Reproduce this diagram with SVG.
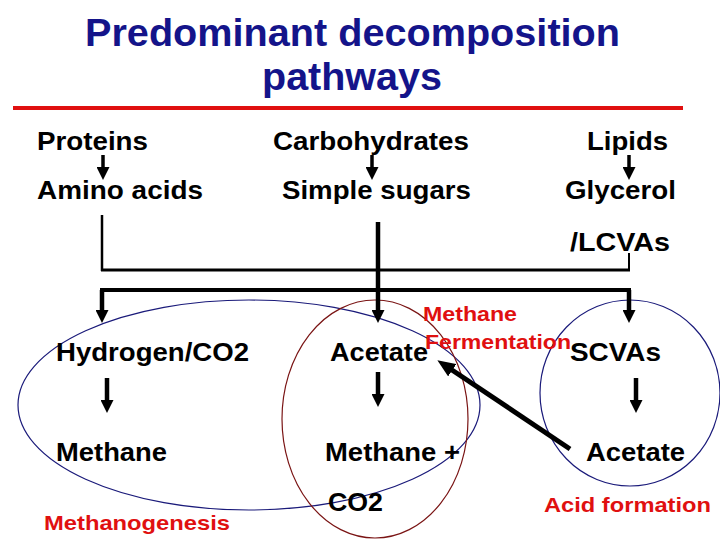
<svg xmlns="http://www.w3.org/2000/svg" width="720" height="540" viewBox="0 0 720 540">
<style>
  .t{font-family:"Liberation Sans",Arial,Helvetica,sans-serif;font-weight:bold;font-size:25px;fill:#000}
  .r{font-family:"Liberation Sans",Arial,Helvetica,sans-serif;font-weight:bold;font-size:21px;fill:#e01010}
  .title{font-family:"Liberation Sans",Arial,Helvetica,sans-serif;font-weight:bold;font-size:39px;fill:#14148a}
  .ln{stroke:#000;fill:none}
  .ring{fill:none;stroke-width:1.2}
</style>
<defs>
  <marker id="ah" markerUnits="userSpaceOnUse" viewBox="0 0 13 13" refX="3" refY="6.5" markerWidth="13" markerHeight="13" orient="auto">
    <path d="M0,0 L13,6.5 L0,13 z" fill="#000"/>
  </marker>
  <marker id="ahb" markerUnits="userSpaceOnUse" viewBox="0 0 18 15" refX="4" refY="7.5" markerWidth="18" markerHeight="15" orient="auto">
    <path d="M0,0 L18,7.5 L0,15 z" fill="#000"/>
  </marker>
</defs>
<rect width="720" height="540" fill="#fff"/>

<g id="title">
  <text class="title" x="85" y="46" textLength="535" lengthAdjust="spacingAndGlyphs">Predominant decomposition</text>
  <text class="title" x="262" y="90" textLength="180" lengthAdjust="spacingAndGlyphs">pathways</text>
  <rect x="13" y="106" width="670" height="4" fill="#e01010"/>
</g>

<g id="regions">
  <ellipse class="ring" cx="249" cy="405" rx="231" ry="105" stroke="#1a1a7a"/>
  <ellipse class="ring" cx="375" cy="419" rx="93" ry="119" stroke="#7a1414"/>
  <ellipse class="ring" cx="630" cy="393" rx="90" ry="93" stroke="#1a1a7a"/>
</g>

<g id="connectors">
  <line class="ln" x1="103" y1="155" x2="103" y2="170" stroke-width="3.5" marker-end="url(#ah)"/>
  <line class="ln" x1="372" y1="155" x2="372" y2="170" stroke-width="3.5" marker-end="url(#ah)"/>
  <line class="ln" x1="629" y1="155" x2="629" y2="170" stroke-width="3.5" marker-end="url(#ah)"/>
  <line class="ln" x1="102" y1="215" x2="102" y2="271" stroke-width="2.5"/>
  <line class="ln" x1="629" y1="253" x2="629" y2="271" stroke-width="2"/>
  <line class="ln" x1="101" y1="270" x2="630" y2="270" stroke-width="3"/>
  <line class="ln" x1="100" y1="290" x2="631" y2="290" stroke-width="4"/>
  <line class="ln" x1="102" y1="290" x2="102" y2="313" stroke-width="4.5" marker-end="url(#ah)"/>
  <line class="ln" x1="378" y1="222" x2="378" y2="313" stroke-width="4.5" marker-end="url(#ah)"/>
  <line class="ln" x1="629" y1="290" x2="629" y2="313" stroke-width="4.5" marker-end="url(#ah)"/>
  <line class="ln" x1="107" y1="378" x2="107" y2="403" stroke-width="4.5" marker-end="url(#ah)"/>
  <line class="ln" x1="378" y1="372" x2="378" y2="397" stroke-width="4.5" marker-end="url(#ah)"/>
  <line class="ln" x1="636" y1="378" x2="636" y2="403" stroke-width="4.5" marker-end="url(#ah)"/>
  <line class="ln" x1="570" y1="449" x2="449" y2="368" stroke-width="5" marker-end="url(#ahb)"/>
</g>

<g id="proteins"><text class="t" x="37" y="150" textLength="111" lengthAdjust="spacingAndGlyphs">Proteins</text></g>
<g id="carbohydrates"><text class="t" x="273" y="150" textLength="196" lengthAdjust="spacingAndGlyphs">Carbohydrates</text></g>
<g id="lipids"><text class="t" x="587" y="150" textLength="81" lengthAdjust="spacingAndGlyphs">Lipids</text></g>
<g id="amino-acids"><text class="t" x="37" y="199" textLength="166" lengthAdjust="spacingAndGlyphs">Amino acids</text></g>
<g id="simple-sugars"><text class="t" x="282" y="199" textLength="189" lengthAdjust="spacingAndGlyphs">Simple sugars</text></g>
<g id="glycerol">
  <text class="t" x="565" y="199" textLength="111" lengthAdjust="spacingAndGlyphs">Glycerol</text>
  <text class="t" x="570" y="251" textLength="100" lengthAdjust="spacingAndGlyphs">/LCVAs</text>
</g>
<g id="hydrogen"><text class="t" x="56" y="361" textLength="193" lengthAdjust="spacingAndGlyphs">Hydrogen/CO2</text></g>
<g id="acetate-mid"><text class="t" x="330" y="361" textLength="98" lengthAdjust="spacingAndGlyphs">Acetate</text></g>
<g id="scvas"><text class="t" x="570" y="361" textLength="91" lengthAdjust="spacingAndGlyphs">SCVAs</text></g>
<g id="methane-left"><text class="t" x="56" y="461" textLength="111" lengthAdjust="spacingAndGlyphs">Methane</text></g>
<g id="methane-co2">
  <text class="t" x="325" y="461" textLength="135" lengthAdjust="spacingAndGlyphs">Methane +</text>
  <text class="t" x="328" y="511" textLength="55" lengthAdjust="spacingAndGlyphs">CO2</text>
</g>
<g id="acetate-right"><text class="t" x="586" y="461" textLength="99" lengthAdjust="spacingAndGlyphs">Acetate</text></g>
<g id="label-fermentation">
  <text class="r" x="423" y="321" textLength="94" lengthAdjust="spacingAndGlyphs">Methane</text>
  <text class="r" x="425" y="349" textLength="146" lengthAdjust="spacingAndGlyphs">Fermentation</text>
</g>
<g id="label-acid"><text class="r" x="544" y="512" textLength="167" lengthAdjust="spacingAndGlyphs">Acid formation</text></g>
<g id="label-methanogenesis"><text class="r" x="44" y="530" textLength="186" lengthAdjust="spacingAndGlyphs">Methanogenesis</text></g>
</svg>
